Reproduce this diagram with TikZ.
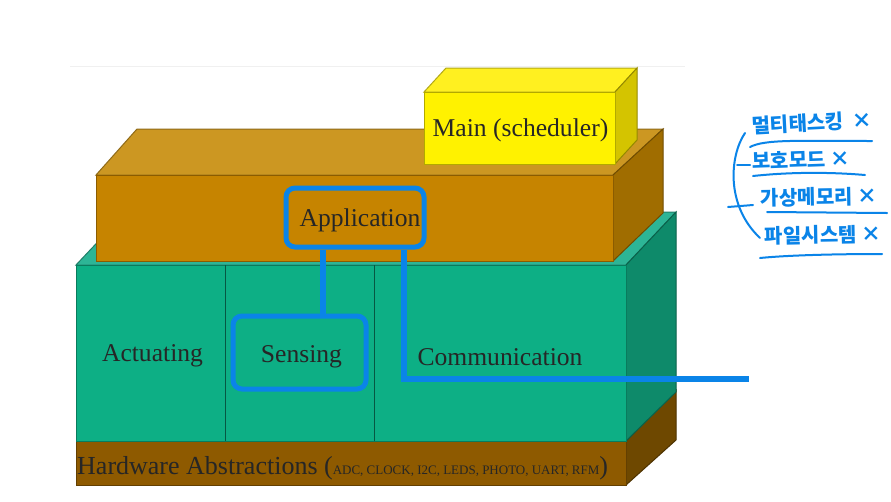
\documentclass[tikz,border=0pt]{standalone}
\usepackage{fontspec}
\setmainfont{Liberation Serif}
\newfontfamily\cjk{Noto Sans CJK KR}
\usepackage{xcolor}
\usetikzlibrary{positioning,calc}
\definecolor{hwfront}{HTML}{8E5A00}
\definecolor{hwside}{HTML}{6E4800}
\definecolor{greenfront}{HTML}{0DAF85}
\definecolor{greentop}{HTML}{2DB596}
\definecolor{greenside}{HTML}{0E8A6A}
\definecolor{appfront}{HTML}{C68400}
\definecolor{apptop}{HTML}{CC9722}
\definecolor{appside}{HTML}{A06D00}
\definecolor{mainfront}{HTML}{FFF200}
\definecolor{maintop}{HTML}{FFF020}
\definecolor{mainside}{HTML}{D4C400}
\definecolor{penblue}{HTML}{0A84E8}
\tikzset{
  face/.style={draw=black!30!#1, line width=1pt, fill=#1},
  label/.style={text=black!85, font=\fontsize{25.6}{28}\selectfont},
  penbox/.style={draw=penblue, line width=5pt, rounded corners=9pt, inner sep=0pt},
  penline/.style={draw=penblue, line width=6.5pt},
  inkline/.style={draw=penblue, line width=2pt, line cap=round},
  inktext/.style={text=penblue, font=\cjk\bfseries\fontsize{20}{22}\selectfont, inner sep=0pt}
}
\begin{document}
\begin{tikzpicture}[x=1pt, y=-1pt]
        \useasboundingbox (0,0) rectangle (891,501);
        \fill[white] (0,0) rectangle (891,501);

        % Faint line at the top
        \draw[black!6, line width=0.8pt] (70,66) -- (685,66);

        % Hardware slab
        \draw[face=hwside] (626,441) -- (676,390) -- (676,440) -- (626,485) -- cycle;
        \draw[face=hwfront] (76,441) rectangle (626,485);

        % Green slab
        \draw[face=greentop] (76,265) -- (126,212) -- (676,212) -- (626,265) -- cycle;
        \draw[face=greenside] (626,265) -- (676,212) -- (676,392) -- (626,441) -- cycle;
        \draw[face=greenfront] (76,265) rectangle (626,441);
        \draw[black!50!greenfront, line width=1pt] (225,441) -- (225,265);
        \draw[black!50!greenfront, line width=1pt] (374,441) -- (374,265);

        % Application slab
        \draw[face=apptop] (96,175) -- (137,129) -- (663,129) -- (613,175) -- cycle;
        \draw[face=appside] (613,175) -- (663,129) -- (663,213) -- (613,261) -- cycle;
        \draw[face=appfront] (96,175) rectangle (613,261);

        % Main block
        \draw[face=maintop] (424,92) -- (446,68) -- (637,68) -- (615,92) -- cycle;
        \draw[face=mainside] (615,92) -- (637,68) -- (637,140) -- (615,164) -- cycle;
        \draw[face=mainfront] (424,92) rectangle (615,164);

        % Labels
        \node[label] (mainlabel) at (520.5,130.5) {Main (scheduler)};
        \node[label] (actuating) at (152.5,356) {Actuating};
        \node[label] (communication) at (500,357) {Communication};
        \node[label, anchor=west, inner sep=0pt] (hardware) at (77,468)
            {\fontsize{26}{28}\selectfont Hardware Abstractions ({\fontsize{13}{14}\selectfont ADC, CLOCK, I2C, LEDS, PHOTO, UART, RFM})};

        % Pen boxes
        \node[penbox, label, minimum width=138pt, minimum height=59pt] (application) at (355,217.5)
            {\hspace{10pt}\raisebox{-3pt}[\height][\depth]{Application}};
        \node[penbox, label, minimum width=133pt, minimum height=73pt] (sensing) at (299.5,352.5)
            {\hspace{4pt}\raisebox{-4pt}[\height][\depth]{Sensing}};

        % Pen connectors
        \coordinate (wireend) at (749,379);
        \draw[penline] ([xshift=-32pt]application.south) -- ([xshift=-32pt]application.south |- sensing.north);
        \draw[penline] ([xshift=49pt]application.south) |- (wireend);

        % Handwritten list
        \node[inktext, rotate=3] (multi) at (812,123) {멀티태스킹\hspace{8pt}×};
        \node[inktext, rotate=2] (protect) at (801,159) {보호모드 ×};
        \node[inktext, rotate=1] (virtual) at (819,197) {가상메모리 ×};
        \node[inktext, rotate=1] (filesys) at (823,235) {파일시스템 ×};
        \draw[inkline] (750,147) .. controls (765,139) and (800,141) .. (872,141);
        \draw[inkline] (753,176) .. controls (790,172) and (830,172) .. (865,175);
        \draw[inkline] (767,212) -- (887,213);
        \draw[inkline] (760,258) .. controls (790,255) and (840,254) .. (882,254);
        \draw[inkline] (745,133) .. controls (730,155) and (725,205) .. (760,238);
        \draw[inkline] (737,165) -- (750,165);
        \draw[inkline] (728,207) -- (753,205);
    \end{tikzpicture}
\end{document}
